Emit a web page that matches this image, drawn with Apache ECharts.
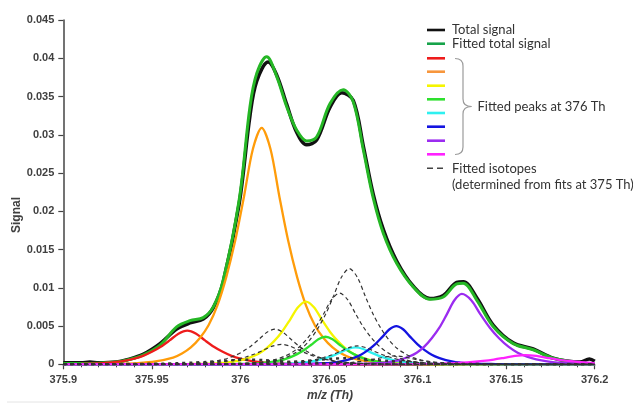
<!DOCTYPE html>
<html>
<head>
<meta charset="utf-8">
<script src="https://cdn.jsdelivr.net/npm/echarts@6/dist/echarts.min.js"></script>
<style>
  html, body { margin: 0; padding: 0; background: #ffffff; }
  #chart { width: 633px; height: 404px; }
</style>
</head>
<body>
<div id="chart"></div>
<script>
// Axis ticks
const xTicks = [375.9, 375.95, 376, 376.05, 376.1, 376.15, 376.2];
const yTicks = [0, 0.005, 0.01, 0.015, 0.02, 0.025, 0.03, 0.035, 0.04, 0.045];

// Measured total signal, [m/z, signal]
const totalSignal = [[375.900,0.0002],[375.910,0.0002],[375.915,0.0003],[375.920,0.0002],[375.930,0.0003],[375.936,0.0006],[375.945,0.0013],[375.9546,0.0027],[375.964,0.0046],[375.9715,0.0054],[375.979,0.0059],[375.9847,0.0074],[375.9903,0.0108],[375.9993,0.021],[376.0054,0.0325],[376.0092,0.0370],[376.0157,0.0395],[376.0205,0.0378],[376.0261,0.0340],[376.0318,0.0303],[376.0374,0.0287],[376.043,0.0293],[376.0506,0.0336],[376.0572,0.0355],[376.0637,0.0345],[376.0694,0.0285],[376.075,0.0222],[376.0807,0.0176],[376.0882,0.0135],[376.0976,0.0102],[376.107,0.0086],[376.1145,0.0090],[376.1221,0.0107],[376.1258,0.0108],[376.1334,0.0087],[376.1428,0.0051],[376.154,0.0028],[376.1653,0.0020],[376.1766,0.0008],[376.1917,0.0003],[376.197,0.0007],[376.2,0.0004]];

// Fitted total signal
const fittedTotal = [[375.900,0.0001],[375.910,0.0001],[375.920,0.00015],[375.930,0.0003],[375.936,0.00056],[375.945,0.0012],[375.9546,0.0025],[375.964,0.0049],[375.9715,0.0057],[375.979,0.0061],[375.9847,0.0075],[375.9903,0.011],[375.9993,0.0215],[376.0054,0.0337],[376.0092,0.038],[376.0148,0.0402],[376.0205,0.0376],[376.0261,0.0337],[376.0318,0.0306],[376.0374,0.0292],[376.043,0.0297],[376.0506,0.0341],[376.058,0.0359],[376.0637,0.0343],[376.0694,0.028],[376.075,0.0217],[376.0807,0.0171],[376.0882,0.0132],[376.0976,0.0101],[376.107,0.0085],[376.1145,0.0088],[376.1221,0.0105],[376.1258,0.0106],[376.1334,0.0084],[376.1428,0.0049],[376.154,0.0027],[376.1653,0.0019],[376.1766,0.0008],[376.1917,0.0002],[376.2,0.0001]];

// Fitted peaks at 376 Th
const peakRed = [[375.900,0.00002],[375.910,0.00005],[375.920,0.00012],[375.925,0.0002],[375.930,0.00031],[375.935,0.00048],[375.940,0.00073],[375.945,0.0011],[375.950,0.00163],[375.955,0.00229],[375.960,0.00312],[375.965,0.0040],[375.970,0.0044],[375.975,0.0040],[375.980,0.00312],[375.985,0.00229],[375.990,0.00163],[375.995,0.0011],[376.000,0.00073],[376.005,0.00048],[376.010,0.00031],[376.015,0.0002],[376.020,0.00012],[376.030,0.00005],[376.040,0.00002],[376.060,0],[376.200,0]];
const peakOrange = [[375.900,0],[375.922,0.00002],[375.932,0.00006],[375.942,0.00015],[375.952,0.00037],[375.962,0.00087],[375.967,0.0014],[375.972,0.0022],[375.977,0.0034],[375.982,0.0051],[375.987,0.0077],[375.992,0.0114],[375.997,0.0161],[376.002,0.0219],[376.007,0.0281],[376.012,0.0309],[376.017,0.0281],[376.022,0.0219],[376.027,0.0161],[376.032,0.0114],[376.037,0.0077],[376.042,0.0051],[376.047,0.0034],[376.052,0.0022],[376.057,0.0014],[376.062,0.00087],[376.072,0.00037],[376.082,0.00015],[376.092,0.00006],[376.102,0.00002],[376.200,0]];
const peakYellow = [[375.900,0],[375.965,0.00001],[375.974,0.00004],[375.983,0.0001],[375.992,0.00023],[375.9965,0.00037],[376.001,0.00057],[376.0055,0.0009],[376.010,0.00135],[376.0145,0.00205],[376.019,0.00303],[376.0235,0.00426],[376.028,0.00582],[376.0325,0.00746],[376.037,0.0082],[376.0415,0.00746],[376.046,0.00582],[376.0505,0.00426],[376.055,0.00303],[376.0595,0.00205],[376.064,0.00135],[376.0685,0.0009],[376.073,0.00057],[376.0775,0.00037],[376.082,0.00023],[376.091,0.0001],[376.100,0.00004],[376.110,0],[376.200,0]];
const peakGreen = [[375.900,0],[375.984,0],[375.992,0.00002],[376.000,0.00004],[376.008,0.0001],[376.012,0.00016],[376.016,0.00025],[376.020,0.0004],[376.024,0.00059],[376.028,0.0009],[376.032,0.00133],[376.036,0.00187],[376.040,0.00256],[376.044,0.00328],[376.048,0.0036],[376.052,0.00328],[376.056,0.00256],[376.060,0.00187],[376.064,0.00133],[376.068,0.0009],[376.072,0.00059],[376.076,0.0004],[376.080,0.00025],[376.084,0.00016],[376.088,0.0001],[376.096,0.00004],[376.104,0.00002],[376.112,0],[376.200,0]];
const peakCyan = [[375.900,0],[375.997,0],[376.0055,0.00001],[376.014,0.00003],[376.0225,0.00006],[376.0268,0.0001],[376.031,0.00015],[376.0353,0.00024],[376.0395,0.00036],[376.0438,0.00055],[376.048,0.00081],[376.0523,0.00114],[376.0565,0.00156],[376.0608,0.002],[376.065,0.0022],[376.0693,0.002],[376.0735,0.00156],[376.0778,0.00114],[376.082,0.00081],[376.0863,0.00055],[376.0905,0.00036],[376.0948,0.00024],[376.099,0.00015],[376.1033,0.0001],[376.1075,0.00006],[376.116,0.00003],[376.1245,0.00001],[376.133,0],[376.200,0]];
const peakBlue = [[375.900,0],[376.024,0],[376.032,0.00003],[376.040,0.00006],[376.048,0.00014],[376.052,0.00023],[376.056,0.00035],[376.060,0.00055],[376.064,0.00083],[376.068,0.00125],[376.072,0.00185],[376.076,0.0026],[376.080,0.00355],[376.084,0.00455],[376.088,0.005],[376.092,0.00455],[376.096,0.00355],[376.100,0.0026],[376.104,0.00185],[376.108,0.00125],[376.112,0.00083],[376.116,0.00055],[376.120,0.00035],[376.124,0.00023],[376.128,0.00014],[376.136,0.00006],[376.144,0.00003],[376.152,0],[376.200,0]];
const peakPurple = [[375.900,0],[376.057,0],[376.0655,0.00005],[376.074,0.00011],[376.0825,0.00026],[376.0868,0.00041],[376.091,0.00064],[376.0953,0.00101],[376.0995,0.00152],[376.1038,0.0023],[376.108,0.0034],[376.1123,0.00478],[376.1165,0.00653],[376.1208,0.00837],[376.125,0.0092],[376.1303,0.00837],[376.1355,0.00653],[376.1408,0.00478],[376.146,0.0034],[376.1513,0.0023],[376.1565,0.00152],[376.1618,0.00101],[376.167,0.00064],[376.1723,0.00041],[376.1775,0.00026],[376.188,0.00011],[376.1985,0.00005],[376.200,0.00004]];
const peakMagenta = [[375.900,0],[376.077,0],[376.089,0.00001],[376.101,0.00003],[376.107,0.00005],[376.113,0.00008],[376.119,0.00013],[376.125,0.0002],[376.131,0.0003],[376.137,0.00044],[376.143,0.00062],[376.149,0.00085],[376.155,0.00109],[376.161,0.0012],[376.167,0.00109],[376.173,0.00085],[376.179,0.00062],[376.185,0.00044],[376.191,0.0003],[376.197,0.0002],[376.200,0.00016]];

// Fitted isotopes (from fits at 375 Th)
const isoA = [[375.900,0],[375.990,0],[375.9985,0.00006],[376.0075,0.00015],[376.0165,0.00035],[376.021,0.00056],[376.0255,0.00088],[376.030,0.00138],[376.0345,0.00206],[376.039,0.00313],[376.0435,0.00463],[376.048,0.0065],[376.0525,0.00888],[376.057,0.01138],[376.0615,0.0125],[376.066,0.01138],[376.0705,0.00888],[376.075,0.0065],[376.0795,0.00463],[376.084,0.00313],[376.0885,0.00206],[376.093,0.00138],[376.0975,0.00088],[376.102,0.00056],[376.1065,0.00035],[376.1155,0.00015],[376.1245,0.00006],[376.134,0],[376.200,0]];
const isoB = [[375.900,0],[375.984,0],[375.993,0.00005],[376.002,0.00011],[376.011,0.00026],[376.0155,0.00042],[376.020,0.00065],[376.0245,0.00102],[376.029,0.00153],[376.0335,0.00233],[376.038,0.00344],[376.0425,0.00484],[376.047,0.0066],[376.0515,0.00846],[376.056,0.0093],[376.0605,0.00846],[376.065,0.0066],[376.0695,0.00484],[376.074,0.00344],[376.0785,0.00233],[376.083,0.00153],[376.0875,0.00102],[376.092,0.00065],[376.0965,0.00042],[376.101,0.00026],[376.110,0.00011],[376.119,0.00005],[376.128,0],[376.200,0]];
const isoC = [[375.900,0],[375.947,0],[375.9565,0.00002],[375.9655,0.00006],[375.9745,0.00013],[375.979,0.00021],[375.9835,0.00032],[375.988,0.00051],[375.9925,0.00076],[375.997,0.00115],[376.0015,0.0017],[376.006,0.00239],[376.0105,0.00327],[376.015,0.00419],[376.0195,0.0046],[376.024,0.00419],[376.0285,0.00327],[376.033,0.00239],[376.0375,0.0017],[376.042,0.00115],[376.0465,0.00076],[376.051,0.00051],[376.0555,0.00032],[376.060,0.00021],[376.0645,0.00013],[376.0735,0.00006],[376.0825,0.00002],[376.092,0],[376.200,0]];
const isoD = [[375.900,0],[375.943,0],[375.953,0.00001],[375.963,0.00003],[375.973,0.00007],[375.978,0.00012],[375.983,0.00018],[375.988,0.00029],[375.993,0.00043],[375.998,0.00065],[376.003,0.00096],[376.008,0.00135],[376.013,0.00185],[376.018,0.00237],[376.023,0.0026],[376.028,0.00237],[376.033,0.00185],[376.038,0.00135],[376.043,0.00096],[376.048,0.00065],[376.053,0.00043],[376.058,0.00029],[376.063,0.00018],[376.068,0.00012],[376.073,0.00007],[376.083,0.00003],[376.093,0.00001],[376.103,0],[376.200,0]];
const isoE = [[375.900,0],[375.990,0],[375.9995,0.00001],[376.009,0.00003],[376.0185,0.00007],[376.0233,0.00011],[376.028,0.00017],[376.0328,0.00026],[376.0375,0.0004],[376.0423,0.0006],[376.047,0.00089],[376.0518,0.00125],[376.0565,0.0017],[376.0613,0.00218],[376.066,0.0024],[376.0708,0.00218],[376.0755,0.0017],[376.0803,0.00125],[376.085,0.00089],[376.0898,0.0006],[376.0945,0.0004],[376.0993,0.00026],[376.104,0.00017],[376.1088,0.00011],[376.1135,0.00007],[376.123,0.00003],[376.1325,0.00001],[376.142,0],[376.200,0]];
const isoF = [[375.900,0],[376.024,0],[376.033,0.00001],[376.042,0.00003],[376.0465,0.00005],[376.051,0.00008],[376.0555,0.00012],[376.060,0.00018],[376.0645,0.00028],[376.069,0.00041],[376.0735,0.00057],[376.078,0.00078],[376.0825,0.001],[376.087,0.0011],[376.0915,0.001],[376.096,0.00078],[376.1005,0.00057],[376.105,0.00041],[376.1095,0.00028],[376.114,0.00018],[376.1185,0.00012],[376.123,0.00008],[376.1275,0.00005],[376.132,0.00003],[376.141,0.00001],[376.150,0],[376.200,0]];
const isoG = [[375.900,0],[375.909,0.00001],[375.925,0.00002],[375.933,0.00003],[375.941,0.00004],[375.949,0.00007],[375.957,0.0001],[375.965,0.00015],[375.973,0.00022],[375.981,0.00031],[375.989,0.00043],[375.997,0.00055],[376.005,0.0006],[376.013,0.00055],[376.021,0.00043],[376.029,0.00031],[376.037,0.00022],[376.045,0.00015],[376.053,0.0001],[376.061,0.00007],[376.069,0.00004],[376.077,0.00003],[376.085,0.00002],[376.101,0.00001],[376.120,0],[376.200,0]];
const isoH = [[375.900,0],[375.950,0],[375.964,0.00001],[375.980,0.00002],[375.988,0.00004],[375.996,0.00006],[376.004,0.00009],[376.012,0.00013],[376.020,0.0002],[376.028,0.0003],[376.036,0.00042],[376.044,0.00057],[376.052,0.00073],[376.060,0.0008],[376.068,0.00073],[376.076,0.00057],[376.084,0.00042],[376.092,0.0003],[376.100,0.0002],[376.108,0.00013],[376.116,0.00009],[376.124,0.00006],[376.132,0.00004],[376.140,0.00002],[376.156,0.00001],[376.170,0],[376.200,0]];

// Legend texts
const legendTotal = 'Total signal';
const legendFitted = 'Fitted total signal';
const legendPeaks = 'Fitted peaks at 376 Th';
const legendIso1 = 'Fitted isotopes';
const legendIso2 = '(determined from fits at 375 Th)';

const peakColors = ['#ee1c1c', '#ff9c0a', '#f5f500', '#2ee02e', '#2ef0f0', '#1414e0', '#9b2cf0', '#ff22ff'];
const peakSets = [peakRed, peakOrange, peakYellow, peakGreen, peakCyan, peakBlue, peakPurple, peakMagenta];
const isoSets = [isoA, isoB, isoC, isoD, isoE, isoF, isoG, isoH];

const series = [];
series.push({ name: 'total', type: 'line', data: totalSignal, smooth: 0.35, symbol: 'none',
  lineStyle: { color: '#111111', width: 3.5 }, z: 2 });
series.push({ name: 'fitted', type: 'line', data: fittedTotal, smooth: 0.35, symbol: 'none',
  lineStyle: { color: '#25b725', width: 3 }, z: 3 });
peakSets.forEach((d, i) => {
  series.push({ name: 'peak' + i, type: 'line', data: d, smooth: 0.3, symbol: 'none',
    lineStyle: { color: peakColors[i], width: 2.3 }, z: 4 });
});
isoSets.forEach((d, i) => {
  const heavy = i >= 6;
  series.push({ name: 'iso' + i, type: 'line', data: d, smooth: 0.3, symbol: 'none',
    lineStyle: { color: '#333333', width: heavy ? 2.4 : 1.2, type: heavy ? [3, 4] : [4, 3] }, z: 5 });
});

const axisColor = '#444444';
const labelFont = { color: '#404040', fontSize: 11, fontWeight: 'bold', fontFamily: 'Liberation Sans, Arial, sans-serif' };
const textFont = '13px Lato, sans-serif';

const legendRows = [
  { y: 30, color: '#111111' }, { y: 43.7, color: '#17a34a' },
  { y: 58.3, color: peakColors[0] }, { y: 71.7, color: '#f7963c' }, { y: 85.7, color: peakColors[2] },
  { y: 99.3, color: peakColors[3] }, { y: 113, color: peakColors[4] }, { y: 126.7, color: peakColors[5] },
  { y: 140.7, color: peakColors[6] }, { y: 154.3, color: peakColors[7] }
];
const graphics = legendRows.map(r => ({
  type: 'line', shape: { x1: 427, y1: r.y, x2: 445, y2: r.y },
  style: { stroke: r.color, lineWidth: 2.6 }, silent: true
}));
graphics.push({ type: 'line', shape: { x1: 427, y1: 168.3, x2: 445, y2: 168.3 },
  style: { stroke: '#444', lineWidth: 1.4, lineDash: [6, 4] }, silent: true });
const txt = (x, y, t) => ({ type: 'text', x: x, y: y,
  style: { text: t, fill: '#333333', font: textFont, verticalAlign: 'middle', align: 'left' }, silent: true });
graphics.push(txt(452, 30, legendTotal));
graphics.push(txt(452, 44, legendFitted));
graphics.push(txt(477.5, 106.5, legendPeaks));
graphics.push(txt(452, 168.5, legendIso1));
graphics.push(txt(452, 185, legendIso2));

// curly brace grouping the peak entries
const braceStyle = { stroke: '#9a9a9a', lineWidth: 1.2, fill: null };
const bez = (x1, y1, cx, cy, x2, y2) => ({ type: 'bezierCurve', silent: true,
  shape: { x1: x1, y1: y1, cpx1: cx, cpy1: cy, x2: x2, y2: y2 }, style: braceStyle });
const seg = (x1, y1, x2, y2) => ({ type: 'line', silent: true,
  shape: { x1: x1, y1: y1, x2: x2, y2: y2 }, style: braceStyle });
graphics.push(bez(455, 58.5, 463, 58.5, 463, 66));
graphics.push(seg(463, 66, 463, 99));
graphics.push(bez(463, 99, 463, 106.5, 471.5, 106.5));
graphics.push(bez(471.5, 106.5, 463, 106.5, 463, 114));
graphics.push(seg(463, 114, 463, 147));
graphics.push(bez(463, 147, 463, 154.5, 455, 154.5));

// axis titles
graphics.push({ type: 'text', x: 17, y: 215, rotation: Math.PI / 2, silent: true,
  style: { text: 'Signal', fill: '#404040', font: 'bold 12px Liberation Sans, Arial, sans-serif', align: 'center', verticalAlign: 'middle' } });
graphics.push({ type: 'text', x: 330, y: 396, silent: true,
  style: { text: 'm/z (Th)', fill: '#404040', font: 'italic bold 12px Liberation Sans, Arial, sans-serif', align: 'center', verticalAlign: 'middle' } });
graphics.push({ type: 'line', silent: true, shape: { x1: 7, y1: 402, x2: 120, y2: 402 }, style: { stroke: '#e4e4e4', lineWidth: 1 } });

const chart = echarts.init(document.getElementById('chart'), null, { renderer: 'canvas' });
chart.setOption({
  animation: false,
  backgroundColor: '#ffffff',
  grid: { left: 63.3, right: 38.3, top: 20, bottom: 39.7, containLabel: false },
  xAxis: {
    type: 'value', min: xTicks[0], max: xTicks[xTicks.length - 1], interval: 0.05,
    axisLine: { show: true, onZero: false, lineStyle: { color: axisColor, width: 1.5 } },
    axisTick: { show: true, inside: false, length: 5, lineStyle: { color: axisColor, width: 1.2 } },
    minorTick: { show: true, splitNumber: 5, length: 3, lineStyle: { color: axisColor, width: 1 } },
    splitLine: { show: false },
    axisLabel: Object.assign({ margin: 10, formatter: v => String(parseFloat(v.toFixed(2))) }, labelFont)
  },
  yAxis: {
    type: 'value', min: yTicks[0], max: yTicks[yTicks.length - 1], interval: 0.005,
    axisLine: { show: true, lineStyle: { color: axisColor, width: 1.5 } },
    axisTick: { show: true, inside: false, length: 5, lineStyle: { color: axisColor, width: 1.2 } },
    splitLine: { show: false },
    axisLabel: Object.assign({ margin: 9, formatter: v => String(parseFloat(v.toFixed(3))) }, labelFont)
  },
  graphic: { elements: graphics },
  series: series
});
</script>
</body>
</html>
